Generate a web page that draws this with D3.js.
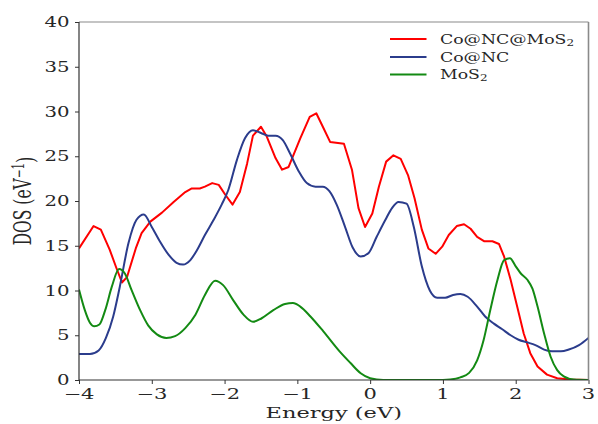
<!DOCTYPE html>
<html>
<head>
<meta charset="utf-8">
<script src="https://cdn.jsdelivr.net/npm/d3@7"></script>
<style>
  html, body { margin: 0; padding: 0; background: #fff; }
  svg text { font-family: "DejaVu Serif", serif; fill: #262626; }
</style>
</head>
<body>
<svg id="chart" width="598" height="424"></svg>
<script>
// Density of states data (energy in eV, DOS in states/eV)
const energyTicks = [-4, -3, -2, -1, 0, 1, 2, 3];
const dosTicks = [0, 5, 10, 15, 20, 25, 30, 35, 40];

const hybridE = [-4.0,-3.8,-3.7,-3.58,-3.49,-3.41,-3.34,-3.22,-3.14,-3.02,-2.86,-2.70,-2.54,-2.45,-2.34,-2.27,-2.17,-2.08,-1.99,-1.89,-1.79,-1.69,-1.61,-1.50,-1.42,-1.30,-1.21,-1.12,-0.96,-0.83,-0.74,-0.65,-0.55,-0.36,-0.25,-0.16,-0.07,0.03,0.12,0.22,0.32,0.42,0.52,0.61,0.71,0.80,0.90,0.99,1.08,1.19,1.29,1.38,1.47,1.57,1.68,1.77,1.84,1.93,2.02,2.11,2.20,2.30,2.43,2.57,2.75,3.0];
const hybridDOS = [14.7,17.2,16.8,14.6,12.6,10.9,11.5,14.7,16.4,17.7,18.7,19.9,21.0,21.4,21.4,21.6,22.0,21.8,20.7,19.6,21.0,24.2,27.3,28.3,27.2,24.8,23.5,23.8,27.0,29.4,29.8,28.3,26.6,26.4,23.5,19.2,17.1,18.6,21.6,24.4,25.1,24.7,22.9,20.3,16.8,14.7,14.1,14.9,16.2,17.2,17.4,16.9,16.0,15.5,15.5,15.2,13.8,11.2,8.2,5.2,3.0,1.5,0.6,0.2,0.05,0.0];

const concE = [-4.0,-3.85,-3.73,-3.63,-3.53,-3.44,-3.32,-3.21,-3.11,-3.0,-2.89,-2.77,-2.66,-2.57,-2.47,-2.38,-2.27,-2.15,-2.04,-1.95,-1.83,-1.72,-1.61,-1.50,-1.40,-1.30,-1.20,-1.10,-0.98,-0.87,-0.75,-0.65,-0.56,-0.46,-0.34,-0.24,-0.13,-0.02,0.09,0.21,0.30,0.39,0.50,0.60,0.71,0.82,0.92,1.03,1.14,1.24,1.34,1.47,1.58,1.70,1.81,1.93,2.04,2.16,2.27,2.39,2.50,2.62,2.73,2.87,3.0];
const concDOS = [2.9,2.9,3.3,4.7,7.1,10.4,15.3,17.9,18.5,17.1,15.5,14.0,13.1,12.9,13.4,14.5,16.2,17.9,19.6,21.2,24.6,27.0,27.9,27.6,27.3,27.3,26.8,25.3,23.3,22.0,21.6,21.6,21.1,19.6,17.0,14.8,13.8,14.2,16.0,17.9,19.2,19.9,19.7,17.1,12.7,10.0,9.2,9.2,9.5,9.6,9.3,8.2,7.1,6.3,5.7,5.0,4.5,4.2,3.9,3.4,3.2,3.2,3.4,3.9,4.7];

const mos2E = [-4.0,-3.92,-3.85,-3.79,-3.72,-3.64,-3.55,-3.45,-3.37,-3.28,-3.16,-3.05,-2.93,-2.80,-2.68,-2.54,-2.40,-2.27,-2.13,-2.02,-1.88,-1.74,-1.61,-1.49,-1.33,-1.17,-1.06,-0.96,-0.82,-0.64,-0.42,-0.27,-0.13,0.0,0.18,1.0,1.10,1.24,1.36,1.47,1.56,1.65,1.75,1.84,1.92,2.0,2.07,2.16,2.23,2.30,2.39,2.48,2.57,2.66,2.80,3.0];
const mos2DOS = [10.1,7.8,6.4,6.0,6.2,7.8,10.4,12.4,11.9,10.1,7.8,6.1,5.1,4.7,4.9,5.8,7.3,9.5,11.1,10.6,8.9,7.3,6.5,6.9,7.8,8.5,8.6,8.2,7.1,5.4,3.2,1.9,0.75,0.2,0.0,0.0,0.05,0.3,0.8,2.2,4.5,7.8,11.2,13.4,13.6,12.7,11.9,11.2,10.2,8.2,5.2,2.6,1.1,0.4,0.05,0.0];

const seriesLabels = [["Co@NC@MoS", "2"], ["Co@NC", ""], ["MoS", "2"]];
const seriesColors = ["#ff0000", "#2b3c8c", "#138a13"];

// Layout
const plot = { left: 79, right: 588.5, top: 22, bottom: 380 };

const svg = d3.select("#chart");

const x = d3.scaleLinear().domain([-4, 3]).range([plot.left, plot.right]);
const y = d3.scaleLinear().domain([0, 40]).range([plot.bottom, plot.top]);

// Curves
const series = [
  { e: hybridE, v: hybridDOS, curve: d3.curveLinear },
  { e: concE, v: concDOS, curve: d3.curveMonotoneX },
  { e: mos2E, v: mos2DOS, curve: d3.curveMonotoneX }
];

svg.append("clipPath").attr("id", "plotclip")
  .append("rect")
  .attr("x", plot.left).attr("y", plot.top - 2)
  .attr("width", plot.right - plot.left).attr("height", plot.bottom - plot.top + 2);

const linesG = svg.append("g").attr("clip-path", "url(#plotclip)");
series.forEach((s, i) => {
  const pts = s.e.map((e, k) => [e, s.v[k]]);
  const line = d3.line().x(d => x(d[0])).y(d => y(d[1])).curve(s.curve);
  linesG.append("path")
    .attr("d", line(pts))
    .attr("fill", "none")
    .attr("stroke", seriesColors[i])
    .attr("stroke-width", 2)
    .attr("stroke-linejoin", "round");
});

// Frame
svg.append("line").attr("x1", plot.left).attr("x2", plot.right)
  .attr("y1", plot.top).attr("y2", plot.top)
  .attr("stroke", "#8a8a8a").attr("stroke-width", 1.2);
svg.append("line").attr("x1", plot.right).attr("x2", plot.right)
  .attr("y1", plot.top).attr("y2", plot.bottom)
  .attr("stroke", "#8a8a8a").attr("stroke-width", 1.6);
svg.append("line").attr("x1", plot.left).attr("x2", plot.left)
  .attr("y1", plot.top).attr("y2", plot.bottom)
  .attr("stroke", "#333").attr("stroke-width", 1.2);
svg.append("line").attr("x1", plot.left).attr("x2", plot.right)
  .attr("y1", plot.bottom).attr("y2", plot.bottom)
  .attr("stroke", "#333").attr("stroke-width", 1.2);

// Axes (tick marks from d3 axes, labels drawn stretched)
const xAxis = svg.append("g")
  .attr("transform", `translate(0,${plot.bottom})`)
  .call(d3.axisBottom(x).tickValues(energyTicks).tickSize(4).tickFormat(""));
const yAxis = svg.append("g")
  .attr("transform", `translate(${plot.left},0)`)
  .call(d3.axisLeft(y).tickValues(dosTicks).tickSize(4).tickFormat(""));
[xAxis, yAxis].forEach(a => {
  a.select(".domain").remove();
  a.selectAll(".tick line").attr("stroke", "#333").attr("stroke-width", 1);
});

const fmt = d3.format("d");
const signed = v => (v < 0 ? "\u2212" + Math.abs(v) : String(v));

svg.append("g").selectAll("text").data(energyTicks).join("text")
  .attr("transform", d => `translate(${x(d)},399) scale(1.45,1)`)
  .attr("text-anchor", "middle")
  .style("font-size", "14.5px")
  .text(d => signed(d));

svg.append("g").selectAll("text").data(dosTicks).join("text")
  .attr("transform", d => `translate(69.5,${y(d)}) scale(1.36,1)`)
  .attr("text-anchor", "end")
  .attr("dy", "0.36em")
  .style("font-size", "14.5px")
  .text(d => fmt(d));

// Axis titles
svg.append("text")
  .attr("transform", `translate(${(plot.left + plot.right) / 2},418) scale(1.5,1)`)
  .attr("text-anchor", "middle")
  .style("font-size", "15px")
  .text("Energy (eV)");

const yl = svg.append("text")
  .attr("transform", `translate(31,${(plot.top + plot.bottom) / 2}) scale(1.5,1) rotate(-90)`)
  .attr("text-anchor", "middle")
  .style("font-size", "15.5px");
yl.append("tspan").text("DOS (eV");
yl.append("tspan").attr("dy", "-0.45em").style("font-size", "10.5px").text("\u22121");
yl.append("tspan").attr("dy", "0.45em").text(")");

// Legend
const legendY = [39, 57, 74.5];
const leg = svg.append("g");
seriesLabels.forEach((lab, i) => {
  leg.append("line")
    .attr("x1", 390).attr("x2", 426.5)
    .attr("y1", legendY[i]).attr("y2", legendY[i])
    .attr("stroke", seriesColors[i]).attr("stroke-width", 2);
  const t = leg.append("text")
    .attr("transform", `translate(440,${legendY[i] + 4.5}) scale(1.33,1)`)
    .style("font-size", "13px");
  t.append("tspan").text(lab[0]);
  if (lab[1]) t.append("tspan").attr("dy", "0.25em").style("font-size", "9px").text(lab[1]);
});
</script>
</body>
</html>
